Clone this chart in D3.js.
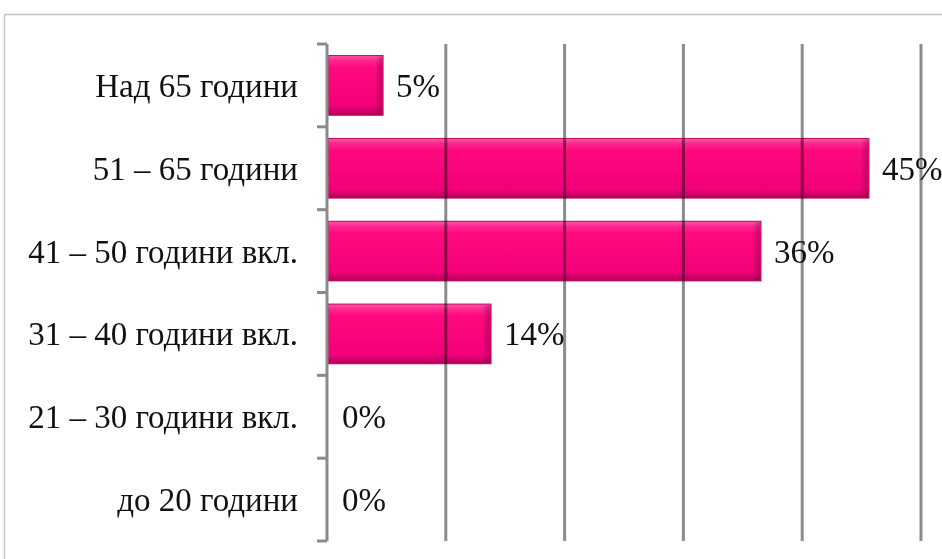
<!DOCTYPE html>
<html>
<head>
<meta charset="utf-8">
<script src="https://cdn.jsdelivr.net/npm/d3@7"></script>
<style>
  body { margin: 0; background: #fff; }
  svg { display: block; }
</style>
</head>
<body>
<svg id="chart" width="942" height="559"></svg>
<script>
// categories top -> bottom
const categories = ["Над 65 години", "51 – 65 години", "41 – 50 години вкл.", "31 – 40 години вкл.", "21 – 30 години вкл.", "до 20 години"];
// shares (labels are rounded)
const shares = [0.0455, 0.4545, 0.3636, 0.1364, 0, 0];
const gridTicks = [0.1, 0.2, 0.3, 0.4, 0.5];

const width = 942, height = 559;
const svg = d3.select("#chart");

// chart frame
svg.append("rect")
  .attr("x", 4.5).attr("y", 14.5)
  .attr("width", 960).attr("height", 600)
  .style("fill", "none")
  .style("stroke", "#c4c4c4")
  .style("stroke-width", 1.5);

const x = d3.scaleLinear().domain([0, 0.5]).range([327, 921]);
const y = d3.scaleBand().domain(categories).range([44, 541])
  .paddingInner(0.28).paddingOuter(0.14);

const defs = svg.append("defs");
const grad = defs.append("linearGradient")
  .attr("id", "barGrad").attr("x1", 0).attr("y1", 0).attr("x2", 0).attr("y2", 1);
grad.append("stop").attr("offset", "0%").attr("stop-color", "#ff5aa8");
grad.append("stop").attr("offset", "8%").attr("stop-color", "#ff2890");
grad.append("stop").attr("offset", "20%").attr("stop-color", "#ff0a7e");
grad.append("stop").attr("offset", "85%").attr("stop-color", "#f2007a");
grad.append("stop").attr("offset", "100%").attr("stop-color", "#b0005a");

const gradH = defs.append("linearGradient")
  .attr("id", "barEdge").attr("x1", 0).attr("y1", 0).attr("x2", 1).attr("y2", 0);
gradH.append("stop").attr("offset", "0%").attr("stop-color", "#000").attr("stop-opacity", 0);
gradH.append("stop").attr("offset", "100%").attr("stop-color", "#7a0040").attr("stop-opacity", 0.35);

const data = categories.map((c, i) => ({ cat: c, v: shares[i] }));

// bars
const bars = svg.append("g");
bars.selectAll("rect.bar")
  .data(data.filter(d => d.v > 0))
  .enter()
  .append("rect")
  .attr("class", "bar")
  .attr("x", x(0) + 1)
  .attr("y", d => y(d.cat))
  .attr("width", d => x(d.v) - x(0) + 1)
  .attr("height", y.bandwidth())
  .style("fill", "url(#barGrad)")
  .style("stroke", "#c0005e")
  .style("stroke-width", 1);

// right-end shading
bars.selectAll("rect.edge")
  .data(data.filter(d => d.v > 0))
  .enter()
  .append("rect")
  .attr("class", "edge")
  .attr("x", d => x(d.v) - 6)
  .attr("y", d => y(d.cat) + 1)
  .attr("width", 7)
  .attr("height", y.bandwidth() - 2)
  .style("fill", "url(#barEdge)");

// gridlines (multiply over bars)
svg.append("g")
  .selectAll("line")
  .data(gridTicks)
  .enter()
  .append("line")
  .attr("x1", d => x(d)).attr("x2", d => x(d))
  .attr("y1", 44).attr("y2", 541)
  .style("stroke", "#8c8c8c")
  .style("stroke-width", 3)
  .style("mix-blend-mode", "multiply");

// category axis
const axis = svg.append("g");
axis.append("line")
  .attr("x1", x(0)).attr("x2", x(0))
  .attr("y1", 44).attr("y2", 541)
  .style("stroke", "#8a8a8a")
  .style("stroke-width", 3);
const step = y.step();
const bounds = categories.map(c => y(c) - step * y.paddingInner() / 2);
bounds.push(541);
axis.selectAll("line.tick")
  .data(bounds)
  .enter()
  .append("line")
  .attr("class", "tick")
  .attr("x1", x(0) - 10).attr("x2", x(0))
  .attr("y1", d => d).attr("y2", d => d)
  .style("stroke", "#8a8a8a")
  .style("stroke-width", 3);

// category labels
svg.append("g")
  .selectAll("text")
  .data(categories)
  .enter()
  .append("text")
  .attr("x", 298)
  .attr("y", d => y(d) + y.bandwidth() / 2)
  .attr("dy", "0.35em")
  .attr("text-anchor", "end")
  .style("font-family", "'Liberation Serif', 'Times New Roman', serif")
  .style("font-size", "33px")
  .style("fill", "#111")
  .text(d => d);

// value labels
const fmt = d3.format(".0%");
svg.append("g")
  .selectAll("text")
  .data(data)
  .enter()
  .append("text")
  .attr("x", d => x(d.v) + 15)
  .attr("y", d => y(d.cat) + y.bandwidth() / 2)
  .attr("dy", "0.35em")
  .style("font-family", "'Liberation Serif', 'Times New Roman', serif")
  .style("font-size", "33px")
  .style("fill", "#111")
  .text(d => fmt(d.v));
</script>
</body>
</html>
